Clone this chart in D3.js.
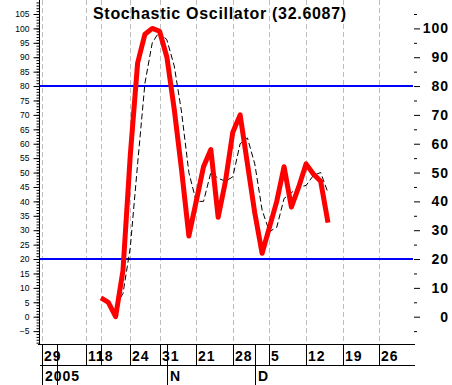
<!DOCTYPE html>
<html>
<head>
<meta charset="utf-8">
<script src="https://cdn.jsdelivr.net/npm/d3@7"></script>
<style>
  body { margin: 0; background: #fff; }
  svg { display: block; }
</style>
</head>
<body>
<svg id="chart"></svg>
<script>
// %K (red) and %D (black dashed), one value per trading day
const kValues = [6.5, 5, 0, 16, 56, 88, 98, 100, 99, 90, 72, 51, 28, 40, 52, 58,
                 34.5, 47, 64, 70, 53, 36, 22, 31, 40, 52, 38, 45, 53, 49.5, 47, 32.6087];
const dStart = 2;
const dValues = [4, 8, 24, 53, 81, 95, 99, 96, 87, 71, 50, 40, 40, 50, 48, 47,
                 48.5, 60, 62, 53, 37, 29.5, 31, 41, 43, 45, 45.5, 49, 50, 43];

// date axis (trading-day index)
const gridDays = [-8, -2, 0, 4, 8, 13, 18, 23, 28, 33, 38];
const labelDays = [-8, -2, -1, 4, 8, 13, 18, 23, 28, 33, 38];
const dateLabels = ["29", "11", "18", "24", "31", "21", "28", "5", "12", "19", "26"];
const monthDays = [-8, -6, 9, 21];
const monthLabels = ["2005", "", "N", "D"];

const levels = [80, 20];
const leftTicks = d3.range(-5, 106, 5);
const rightTicks = d3.range(0, 101, 10);

const W = 452, H = 385;
const plotL = 39, plotR = 413, plotB = 344;
const row1 = 365, row2 = 385;

const svg = d3.select("#chart").attr("width", W).attr("height", H);

const x = d3.scaleLinear().domain([0, 31]).range([101, 328]);
const y = d3.scaleLinear().domain([0, 100]).range([316.7, 28.4]);

// dashed grid
svg.append("g")
  .selectAll("line")
  .data(gridDays)
  .join("line")
  .attr("x1", d => Math.round(x(d)) + 0.5)
  .attr("x2", d => Math.round(x(d)) + 0.5)
  .attr("y1", 0)
  .attr("y2", plotB)
  .attr("stroke", "#bdbdbd")
  .attr("stroke-dasharray", "5,3");

// overbought / oversold lines
svg.append("g")
  .selectAll("line")
  .data(levels)
  .join("line")
  .attr("x1", plotL)
  .attr("x2", plotR)
  .attr("y1", d => y(d))
  .attr("y2", d => y(d))
  .attr("stroke", "#0000ff")
  .attr("stroke-width", 2);

// left axis (small labels, dense minor ticks)
const left = svg.append("g").attr("transform", `translate(${plotL + 0.5},0)`);
left.call(d3.axisLeft(y).tickValues(d3.range(-9, 110, 1)).tickSize(3).tickFormat(""))
  .call(g => g.select(".domain").remove());
left.append("g")
  .call(d3.axisLeft(y).tickValues(leftTicks).tickSize(6).tickPadding(4))
  .call(g => g.select(".domain").remove())
  .call(g => g.selectAll("text")
    .attr("font-family", "Liberation Sans, Arial, sans-serif")
    .attr("font-size", 8.5)
    .attr("fill", "#000"));
left.append("line")
  .attr("y1", 0).attr("y2", plotB)
  .attr("stroke", "#000");

// right axis (bold labels)
const right = svg.append("g").attr("transform", `translate(${plotR + 1},0)`);
right.call(d3.axisRight(y).tickValues(d3.range(-5, 106, 10)).tickSize(3).tickFormat(""))
  .call(g => g.select(".domain").remove());
right.append("g")
  .call(d3.axisRight(y).tickValues(rightTicks).tickSize(6))
  .call(g => g.select(".domain").remove())
  .call(g => g.selectAll("text")
    .attr("x", 35)
    .attr("text-anchor", "end")
    .attr("font-family", "Liberation Sans, Arial, sans-serif")
    .attr("font-weight", "bold")
    .attr("font-size", 14)
    .attr("letter-spacing", 1)
    .attr("fill", "#000"));

// %D signal line
svg.append("path")
  .datum(dValues)
  .attr("fill", "none")
  .attr("stroke", "#000")
  .attr("stroke-width", 1)
  .attr("stroke-dasharray", "6,3")
  .attr("d", d3.line().x((d, i) => x(i + dStart)).y(d => y(d)));

// %K line
svg.append("path")
  .datum(kValues)
  .attr("fill", "none")
  .attr("stroke", "#ff0000")
  .attr("stroke-width", 5)
  .attr("stroke-linejoin", "round")
  .attr("d", d3.line().x((d, i) => x(i)).y(d => y(d)));

// date axis frame
const axis = svg.append("g").attr("stroke", "#000");
axis.append("line").attr("x1", plotL - 1).attr("x2", 415).attr("y1", plotB + 0.5).attr("y2", plotB + 0.5);
axis.append("line").attr("x1", plotL + 1).attr("x2", 415).attr("y1", row1 + 0.5).attr("y2", row1 + 0.5);
axis.selectAll(".tick")
  .data(gridDays)
  .join("line")
  .attr("x1", d => Math.round(x(d)) + 0.5)
  .attr("x2", d => Math.round(x(d)) + 0.5)
  .attr("y1", plotB)
  .attr("y2", row1);
axis.selectAll(".month")
  .data(monthDays)
  .join("line")
  .attr("x1", d => Math.round(x(d)) + 0.5)
  .attr("x2", d => Math.round(x(d)) + 0.5)
  .attr("y1", plotB)
  .attr("y2", row2);

const labelFont = g => g
  .attr("font-family", "Liberation Sans, Arial, sans-serif")
  .attr("font-weight", "bold")
  .attr("font-size", 14)
  .attr("letter-spacing", 1)
  .attr("fill", "#000");

svg.append("g").call(labelFont)
  .selectAll("text")
  .data(dateLabels)
  .join("text")
  .attr("x", (d, i) => Math.round(x(labelDays[i])) + 2)
  .attr("y", 361)
  .text(d => d);

svg.append("g").call(labelFont)
  .selectAll("text")
  .data(monthLabels)
  .join("text")
  .attr("x", (d, i) => Math.round(x(monthDays[i])) + 3)
  .attr("y", 381)
  .text(d => d);

// title
svg.append("text")
  .attr("x", 93)
  .attr("y", 19)
  .attr("font-family", "Liberation Sans, Arial, sans-serif")
  .attr("font-weight", "bold")
  .attr("font-size", 16)
  .attr("letter-spacing", 0.7)
  .text("Stochastic Oscillator (32.6087)");
</script>
</body>
</html>
